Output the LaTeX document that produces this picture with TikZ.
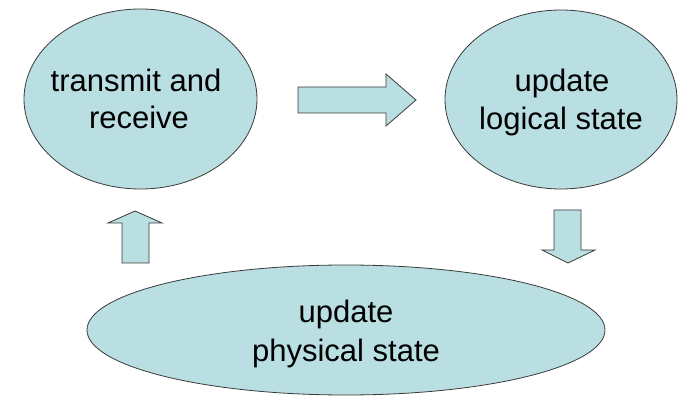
\documentclass[tikz,border=0pt]{standalone}
\usepackage{fontspec}
\setmainfont{Liberation Sans}
\usetikzlibrary{shapes.geometric}
\definecolor{fillblue}{HTML}{BADFE3}
\definecolor{edgecol}{HTML}{3A3A3A}
\begin{document}
\begin{tikzpicture}[x=1pt,y=-1pt,
  bubble/.style={ellipse,draw=edgecol,fill=fillblue,line width=0.8pt,inner sep=0pt},
  lbl/.style={anchor=base,font=\fontsize{31}{37}\selectfont,inner sep=0pt},
  blockarrow/.style={draw=edgecol,fill=fillblue,line width=0.8pt,line join=miter}]
\useasboundingbox (0,0) rectangle (678,398);
\node[bubble,minimum width=233pt,minimum height=180pt] (tr) at (140.5,99) {};
\node[bubble,minimum width=232pt,minimum height=179pt] (ul) at (561,99.5) {};
\node[bubble,minimum width=518pt,minimum height=130pt] (upd) at (346,330) {};
% labels
\node[lbl] (tr1) at (136,92) {transmit and};
\node[lbl] (tr2) at (139,129) {receive};
\node[lbl] (ul1) at (562,92) {update};
\node[lbl] (ul2) at (561,130) {logical state};
\node[lbl] (up1) at (346,323) {update};
\node[lbl] (up2) at (346,362) {physical state};
% block arrows
\draw[blockarrow] (298,87) -- (386,87) -- (386,74) -- (416,100) -- (386,126) -- (386,113) -- (298,113) -- cycle;
\draw[blockarrow] (122,263) -- (122,223) -- (108,223) -- (135,211) -- (162,223) -- (149,223) -- (149,263) -- cycle;
\draw[blockarrow] (554,210) -- (581,210) -- (581,250) -- (595,250) -- (568,263) -- (542,250) -- (554,250) -- cycle;
\end{tikzpicture}
\end{document}
